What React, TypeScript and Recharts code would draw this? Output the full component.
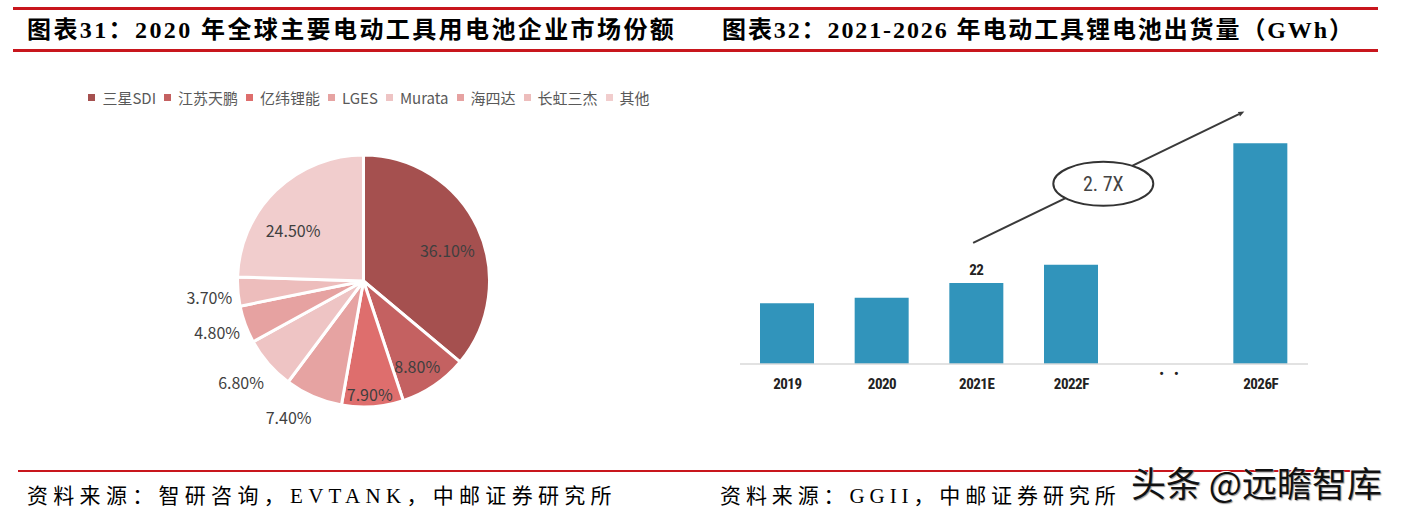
import React from 'react';
import { PieChart, Pie, Cell, BarChart, Bar, XAxis, YAxis, LabelList, ReferenceLine } from 'recharts';

// 图表31 data
const companies = ['三星SDI', '江苏天鹏', '亿纬锂能', 'LGES', 'Murata', '海四达', '长虹三杰', '其他'];
const shares = [36.1, 8.8, 7.9, 7.4, 6.8, 4.8, 3.7, 24.5];

// 图表32 data
const years = ['2019', '2020', '2021E', '2022F', '· ·', '2026F'];
const shipments = [16.5, 18, 22, 27, null, 60];
const labelledYears = ['2021E', '2026F'];

// growth annotation: arrow from 2021E up to 2026F
const growthText = '2. 7X';
const arrowFrom = { x: '2021E', y: 32.9 };
const arrowTo = { x: '2026F', y: 68.6 };

const sliceColors = ['#A5504F', '#C46161', '#DE6E6D', '#E6A3A2', '#EEC4C4', '#E6A2A1', '#EDBDBC', '#F1CDCD'];
// label placement (Excel "best fit" look): radius factor and small angle nudge
const labelRadius = [0.71, 0.8, 0.9, 1.23, 1.26, 1.23, 1.23, 0.69];
const labelNudge = [-4.5, -2, -1, -5.5, -1.5, -1, 1, 10];

const pieData = companies.map((name, i) => ({ name, value: shares[i] }));
const barData = years.map((year, i) => ({ year, value: shipments[i] }));

const SANS = '"Noto Sans CJK SC", "Noto Sans", sans-serif';
const NARROW = '"Liberation Sans Narrow", "Roboto Condensed", "Liberation Sans", sans-serif';
const SERIF = '"Liberation Serif", "Times New Roman", "Noto Sans CJK SC", serif';
const RED = '#C8161D';

const renderPieLabel = (props: any) => {
  const { cx, cy, midAngle, outerRadius, index, value } = props;
  const r = outerRadius * labelRadius[index];
  const rad = (-(midAngle + labelNudge[index]) * Math.PI) / 180;
  return (
    <text
      x={cx + r * Math.cos(rad)}
      y={cy + r * Math.sin(rad)}
      textAnchor="middle"
      dominantBaseline="central"
      fontSize={16}
      fontFamily={SANS}
      fill="#3f3f3f"
    >
      {value.toFixed(2)}%
    </text>
  );
};

const PieLegend = () => (
  <div style={{ position: 'absolute', top: 86, left: 8, width: 730, height: 22, display: 'flex', justifyContent: 'center', alignItems: 'center', fontFamily: SANS, fontSize: 15, color: '#595959' }}>
    {companies.map((name, i) => (
      <span key={name} style={{ display: 'flex', alignItems: 'center', marginRight: 8 }}>
        <span style={{ width: 7, height: 7, background: sliceColors[i], marginRight: 7, display: 'inline-block' }} />
        {name}
      </span>
    ))}
  </div>
);

const YearTick = (props: any) => {
  const { x, y, payload } = props;
  if (payload.value === '· ·') {
    return (
      <text x={x + 8} y={y} dy={6} textAnchor="middle" fontSize={13} fontWeight="bold" fill="#222" letterSpacing={10} fontFamily={NARROW}>
        {'••'}
      </text>
    );
  }
  return (
    <text x={x} y={y} dy={17} textAnchor="middle" fontSize={15} fontWeight="bold" fill="#222" fontFamily={NARROW} letterSpacing={-0.5}>
      {payload.value}
    </text>
  );
};

const renderBarLabel = (props: any) => {
  const { x, y, width, value, index } = props;
  if (value == null || !labelledYears.includes(years[index])) return null;
  return (
    <text x={x + width / 2} y={y - 8} textAnchor="middle" fontSize={15} fontWeight="bold" fill="#222" fontFamily={NARROW} letterSpacing={-0.5}>
      {value}
    </text>
  );
};

// arrow + oval callout; ends pulled slightly left of the bar centres like the source
const GrowthArrow = (props: any) => {
  const step = (props.x2 - props.x1) / 4;
  const x1 = props.x1 - step * 0.05;
  const x2 = props.x2 - step * 0.23;
  const { y1, y2 } = props;
  const ang = Math.atan2(y2 - y1, x2 - x1);
  const len = 6;
  const w = 2.5;
  const bx = x2 - len * Math.cos(ang);
  const by = y2 - len * Math.sin(ang);
  const px = -Math.sin(ang) * w;
  const py = Math.cos(ang) * w;
  const t = 0.48;
  const ex = x1 + (x2 - x1) * t;
  const ey = y1 + (y2 - y1) * t + 4;
  return (
    <g>
      <line x1={x1} y1={y1} x2={bx} y2={by} stroke="#3a3a3a" strokeWidth={2} />
      <polygon points={`${x2},${y2} ${bx + px},${by + py} ${bx - px},${by - py}`} fill="#3a3a3a" />
      <ellipse cx={ex} cy={ey} rx={50} ry={22} fill="#fff" stroke="#333" strokeWidth={2} />
      <text x={ex} y={ey} textAnchor="middle" dominantBaseline="central" fontSize={20} fill="#444" fontFamily={NARROW}>
        {growthText}
      </text>
    </g>
  );
};

const App: React.FC = () => {
  return (
    <div style={{ position: 'absolute', left: 0, top: 0, width: 1404, height: 516, background: '#fff', overflow: 'hidden' }}>
      {/* header rules */}
      <div style={{ position: 'absolute', left: 13, top: 7, width: 1365, height: 3, background: RED }} />
      <div style={{ position: 'absolute', left: 13, top: 49, width: 1365, height: 3, background: RED }} />
      <div style={{ position: 'absolute', left: 27, top: 15, lineHeight: '30px', fontSize: 24, fontWeight: 'bold', fontFamily: SERIF, letterSpacing: 2.4, whiteSpace: 'nowrap', color: '#000' }}>
        图表31：2020 年全球主要电动工具用电池企业市场份额
      </div>
      <div style={{ position: 'absolute', left: 722, top: 15, lineHeight: '30px', fontSize: 24, fontWeight: 'bold', fontFamily: SERIF, letterSpacing: 1.9, whiteSpace: 'nowrap', color: '#000' }}>
        图表32：2021-2026 年电动工具锂电池出货量（GWh）
      </div>

      {/* pie */}
      <PieLegend />
      <div style={{ position: 'absolute', left: 0, top: 0 }}>
        <PieChart width={730} height={460} margin={{ top: 0, right: 0, bottom: 0, left: 0 }}>
          <Pie
            data={pieData}
            dataKey="value"
            nameKey="name"
            cx={363.5}
            cy={281}
            outerRadius={126}
            startAngle={90}
            endAngle={-270}
            stroke="#fff"
            strokeWidth={3}
            label={renderPieLabel}
            labelLine={false}
            isAnimationActive={false}
          >
            {pieData.map((d, i) => (
              <Cell key={d.name} fill={sliceColors[i]} />
            ))}
          </Pie>
        </PieChart>
      </div>

      {/* bars */}
      <div style={{ position: 'absolute', left: 730, top: 60 }}>
        <BarChart width={600} height={360} data={barData} margin={{ top: 39, right: 22, bottom: 26, left: 10 }}>
          <XAxis
            dataKey="year"
            axisLine={{ stroke: '#D9D9D9', strokeWidth: 1.5 }}
            tickLine={false}
            tick={<YearTick />}
            interval={0}
            height={30}
          />
          <YAxis domain={[0, 72]} hide />
          <Bar dataKey="value" fill="#3194BB" barSize={54} isAnimationActive={false}>
            <LabelList dataKey="value" content={renderBarLabel} />
          </Bar>
          <ReferenceLine segment={[arrowFrom, arrowTo]} shape={GrowthArrow} ifOverflow="visible" />
        </BarChart>
      </div>

      {/* footer */}
      <div style={{ position: 'absolute', left: 18, top: 470, width: 1352, height: 2, background: RED }} />
      <div style={{ position: 'absolute', left: 27, top: 483, lineHeight: '26px', fontSize: 21, fontFamily: SERIF, letterSpacing: 5.3, whiteSpace: 'nowrap', color: '#000' }}>
        资料来源：智研咨询，EVTANK，中邮证券研究所
      </div>
      <div style={{ position: 'absolute', left: 720, top: 483, lineHeight: '26px', fontSize: 21, fontFamily: SERIF, letterSpacing: 4.9, whiteSpace: 'nowrap', color: '#000' }}>
        资料来源：GGII，中邮证券研究所
      </div>
      <div style={{ position: 'absolute', left: 1131, top: 462, lineHeight: '40px', fontSize: 35, fontFamily: SANS, whiteSpace: 'nowrap', color: '#111', textShadow: '1px 1px 1px #999, -1px -1px 0 #fff' }}>
        头条 @远瞻智库
      </div>
    </div>
  );
};

export default App;
